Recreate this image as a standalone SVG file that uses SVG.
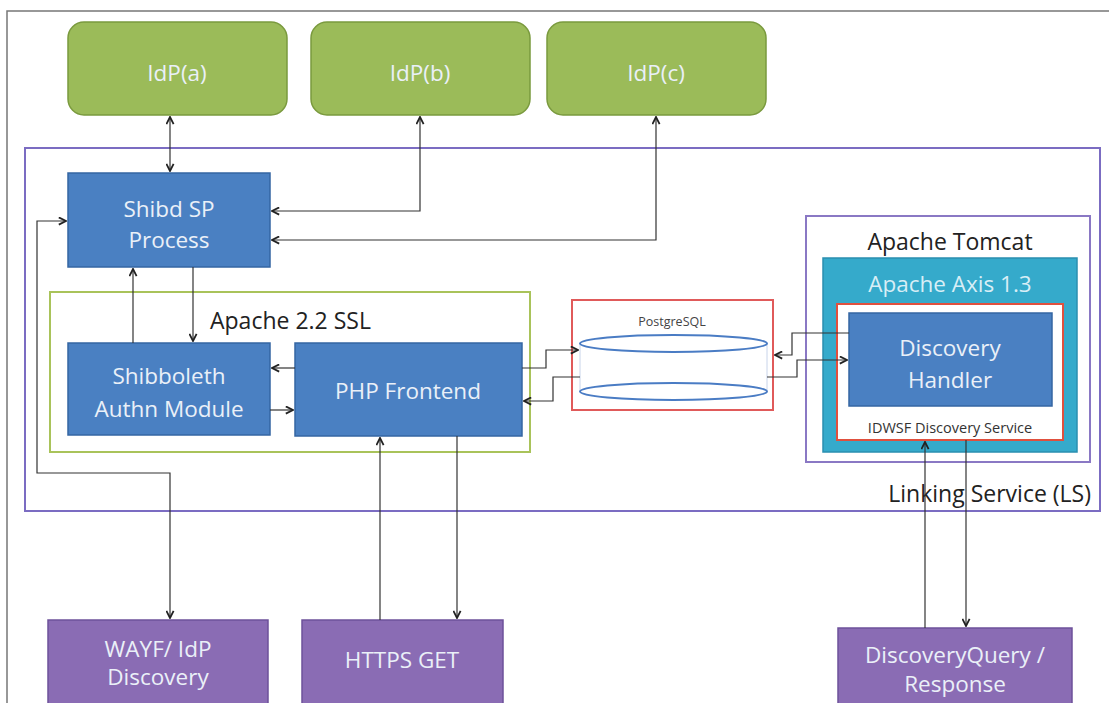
<svg xmlns="http://www.w3.org/2000/svg" width="1109" height="703" viewBox="0 0 1109 703">
<defs>
<marker id="ah" viewBox="0 0 10 10" refX="9" refY="5" markerWidth="9" markerHeight="9" orient="auto-start-reverse" markerUnits="userSpaceOnUse">
<path d="M1,1 L9,5 L1,9" fill="none" stroke="#222" stroke-width="2"/>
</marker>
<style>
.t{font-family:"Open Sans","Noto Sans",sans-serif;}
.wt{fill:#eaf0f8;font-size:22.5px;text-anchor:middle;}
.dk{fill:#222;font-size:23px;}
.green{fill:#9bbb59;stroke:#7a9a3e;stroke-width:1.5;}
.blue{fill:#4a80c2;stroke:#3566a3;stroke-width:1.5;}
.purple{fill:#8a6cb4;stroke:#6d519a;stroke-width:1.5;}
.c{fill:none;stroke:#333;stroke-width:1.2;}
</style>
</defs>
<rect x="0" y="0" width="1109" height="703" fill="#fff"/>
<path d="M7,703 L7,11 L1109,11" fill="none" stroke="#777" stroke-width="1.5"/>

<g id="ls">
<rect x="25" y="148" width="1075" height="363" fill="none" stroke="#7b6cc2" stroke-width="2"/>
<text class="t dk" x="1091" y="502" text-anchor="end">Linking Service (LS)</text>
</g>

<g id="idp-a"><rect class="green" x="68" y="22" width="219" height="93" rx="16"/><text class="t wt" x="177" y="81">IdP(a)</text></g>
<g id="idp-b"><rect class="green" x="311" y="22" width="219" height="93" rx="16"/><text class="t wt" x="420" y="81">IdP(b)</text></g>
<g id="idp-c"><rect class="green" x="547" y="22" width="219" height="93" rx="16"/><text class="t wt" x="656" y="81">IdP(c)</text></g>

<g id="shibd"><rect class="blue" x="68" y="173" width="202" height="94"/><text class="t wt" x="169" y="217">Shibd SP</text><text class="t wt" x="169" y="248">Process</text></g>

<g id="apache">
<rect x="50" y="292" width="480" height="160" fill="none" stroke="#a9c35a" stroke-width="2"/>
<text class="t dk" x="210" y="329">Apache 2.2 SSL</text>
</g>
<g id="shibauthn"><rect class="blue" x="68" y="343" width="202" height="92"/><text class="t wt" x="169" y="384">Shibboleth</text><text class="t wt" x="169" y="417">Authn Module</text></g>
<g id="php"><rect class="blue" x="295" y="343" width="227" height="93"/><text class="t wt" x="408" y="399">PHP Frontend</text></g>

<g id="postgres">
<rect x="572" y="300" width="201" height="110" fill="#fff" stroke="#e05a5a" stroke-width="2"/>
<text class="t" x="672" y="326" font-size="12.5" fill="#444" text-anchor="middle">PostgreSQL</text>
<path d="M580,343 L580,391 M767,343 L767,391" stroke="#c8d4ea" stroke-width="1" fill="none"/>
<ellipse cx="673.5" cy="343.5" rx="93.5" ry="8.5" fill="#fff" stroke="#4a7cc4" stroke-width="2"/>
<ellipse cx="673.5" cy="391.5" rx="93.5" ry="8.5" fill="#fff" stroke="#4a7cc4" stroke-width="2"/>
</g>

<g id="tomcat">
<rect x="806" y="216" width="284" height="246" fill="#fff" stroke="#8a78c4" stroke-width="2"/>
<text class="t dk" x="950" y="250" text-anchor="middle">Apache Tomcat</text>
</g>
<g id="axis">
<rect x="823" y="258" width="254" height="194" fill="#35aacb" stroke="#2a8fb0" stroke-width="1.5"/>
<text class="t" x="950" y="292" font-size="22.5" fill="#d8eef6" text-anchor="middle">Apache Axis 1.3</text>
</g>
<g id="idwsf">
<rect x="837" y="304" width="226" height="136" fill="#fff" stroke="#e0503e" stroke-width="2"/>
<text class="t" x="950" y="433" font-size="14.5" fill="#333" text-anchor="middle">IDWSF Discovery Service</text>
</g>
<g id="dischandler"><rect class="blue" x="849" y="313" width="203" height="93"/><text class="t wt" x="950" y="356">Discovery</text><text class="t wt" x="950" y="388">Handler</text></g>

<g id="wayf"><rect class="purple" x="48" y="620" width="220" height="90"/><text class="t wt" x="158" y="657">WAYF/ IdP</text><text class="t wt" x="158" y="685">Discovery</text></g>
<g id="https"><rect class="purple" x="302" y="620" width="201" height="90"/><text class="t wt" x="402" y="668">HTTPS GET</text></g>
<g id="dq"><rect class="purple" x="838" y="628" width="234" height="90"/><text class="t wt" x="955" y="663">DiscoveryQuery /</text><text class="t wt" x="955" y="692">Response</text></g>

<g id="connectors">
<path class="c" d="M170,117 L170,171" marker-start="url(#ah)" marker-end="url(#ah)"/>
<path class="c" d="M272,211 L420,211 L420,117" marker-start="url(#ah)" marker-end="url(#ah)"/>
<path class="c" d="M272,240 L656,240 L656,117" marker-start="url(#ah)" marker-end="url(#ah)"/>
<path class="c" d="M133,343 L133,269" marker-end="url(#ah)"/>
<path class="c" d="M193,267 L193,341" marker-end="url(#ah)"/>
<path class="c" d="M66,221 L37,221 L37,473 L170,473 L170,618" marker-start="url(#ah)" marker-end="url(#ah)"/>
<path class="c" d="M295,368 L272,368" marker-end="url(#ah)"/>
<path class="c" d="M270,410 L293,410" marker-end="url(#ah)"/>
<path class="c" d="M522,368 L546,368 L546,350 L578,350" marker-end="url(#ah)"/>
<path class="c" d="M580,377 L553,377 L553,401 L524,401" marker-end="url(#ah)"/>
<path class="c" d="M849,333 L792,333 L792,355 L775,355" marker-end="url(#ah)"/>
<path class="c" d="M767,377 L797,377 L797,360 L847,360" marker-end="url(#ah)"/>
<path class="c" d="M457,436 L457,618" marker-end="url(#ah)"/>
<path class="c" d="M380,620 L380,438" marker-end="url(#ah)"/>
<path class="c" d="M925,628 L925,442" marker-end="url(#ah)"/>
<path class="c" d="M966,440 L966,626" marker-end="url(#ah)"/>
</g>
</svg>
